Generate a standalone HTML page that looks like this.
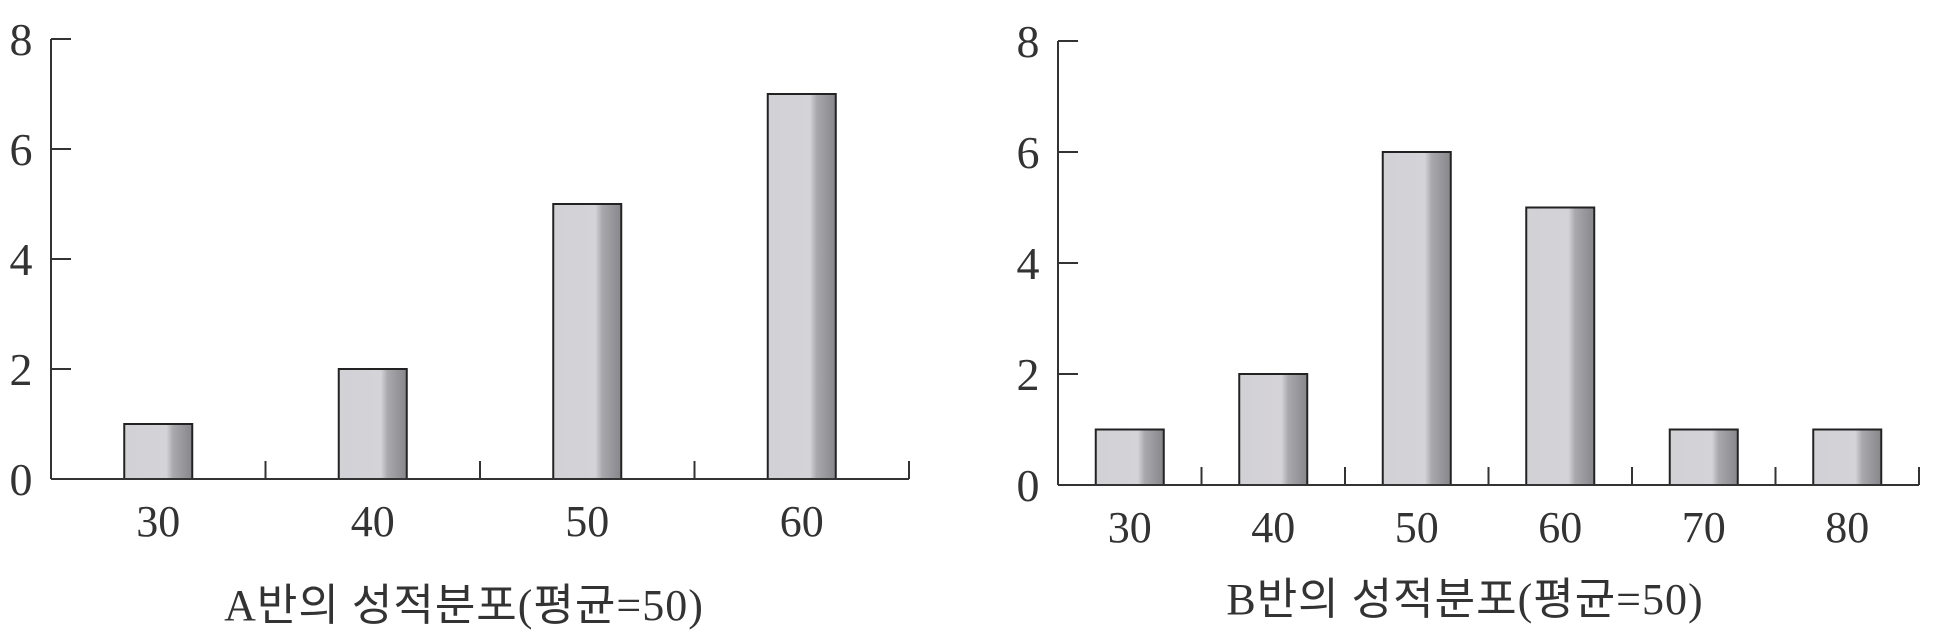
<!DOCTYPE html>
<html><head><meta charset="utf-8"><style>
html,body{margin:0;padding:0;background:#fff;}
svg{display:block;}
text{font-family:"Liberation Serif","Noto Serif CJK SC",serif;fill:#333;}
.title{font-family:"Liberation Serif","Noto Sans CJK KR",sans-serif;letter-spacing:1px;}
</style></head><body>
<svg id="chart" width="1940" height="640" viewBox="0 0 1940 640" xmlns="http://www.w3.org/2000/svg">
<defs>
<linearGradient id="barGrad" x1="0" x2="1" y1="0" y2="0">
<stop offset="0" stop-color="#d2d1d6"/>
<stop offset="0.62" stop-color="#d4d3d8"/>
<stop offset="0.72" stop-color="#a9a8ad"/>
<stop offset="1" stop-color="#87868b"/>
</linearGradient>
</defs>
</svg>
<script>
const catsA = ["30","40","50","60"];
const valsA = [1,2,5,7];
const catsB = ["30","40","50","60","70","80"];
const valsB = [1,2,6,5,1,1];
const yTicks = [0,2,4,6,8];
const titleA = "A반의 성적분포(평균=50)";
const titleB = "B반의 성적분포(평균=50)";

const NS = "http://www.w3.org/2000/svg";
const svg = document.getElementById('chart');
function mk(tag, attrs, parent){
  const e = document.createElementNS(NS, tag);
  for (const k in attrs) e.setAttribute(k, attrs[k]);
  (parent||svg).appendChild(e);
  return e;
}
function drawPanel(cfg){
  const g = mk('g', {});
  
  
  const yScale = v => cfg.y0 - (cfg.y0 - cfg.yTop) * v / 8;
  const band = (cfg.xEnd - cfg.x0) / cfg.cats.length;
  const xCenter = i => cfg.x0 + band * (i + 0.5);
  cfg.vals.forEach((v, i) => {
    const r = mk('rect', {x: xCenter(i) - 34, y: yScale(v), width: 68, height: cfg.y0 - yScale(v),
      fill: 'url(#barGrad)', stroke: '#222', 'stroke-width': 2}, g);
    
    
  });
  const ya = mk('line', {x1: cfg.x0, y1: yScale(8), x2: cfg.x0, y2: cfg.y0, stroke: '#333', 'stroke-width': 2}, g);
  
  
  const xa = mk('line', {x1: cfg.x0, y1: cfg.y0, x2: cfg.xEnd, y2: cfg.y0, stroke: '#333', 'stroke-width': 2}, g);
  
  
  yTicks.forEach(t => {
    if (t > 0) mk('line', {x1: cfg.x0, y1: yScale(t), x2: cfg.x0 + 20, y2: yScale(t), stroke: '#333', 'stroke-width': 2}, g);
    const tl = mk('text', {x: cfg.x0 - 30, y: yScale(t) + 16, 'font-size': 46, 'text-anchor': 'middle'}, g);
    tl.textContent = t;
    
    
  });
  cfg.cats.forEach((c, i) => {
    const xr = cfg.x0 + band * (i + 1);
    mk('line', {x1: xr, y1: cfg.y0 - 18, x2: xr, y2: cfg.y0, stroke: '#333', 'stroke-width': 2}, g);
    const xl = mk('text', {x: xCenter(i), y: cfg.y0 + 57, 'font-size': 44, 'text-anchor': 'middle'}, g);
    xl.textContent = c;
    
    
  });
  const t = mk('text', {x: cfg.titleX, y: cfg.titleY, 'font-size': 44, 'text-anchor': 'middle', class: 'title'}, g);
  t.textContent = cfg.title;
  
  
}
drawPanel({name:'panel-a', cats:catsA, vals:valsA, x0:51, xEnd:909, y0:479, yTop:39, title:titleA, titleX:464, titleY:620});
drawPanel({name:'panel-b', cats:catsB, vals:valsB, x0:1058, xEnd:1919, y0:485, yTop:41, title:titleB, titleX:1465, titleY:614});
</script>
</body></html>
